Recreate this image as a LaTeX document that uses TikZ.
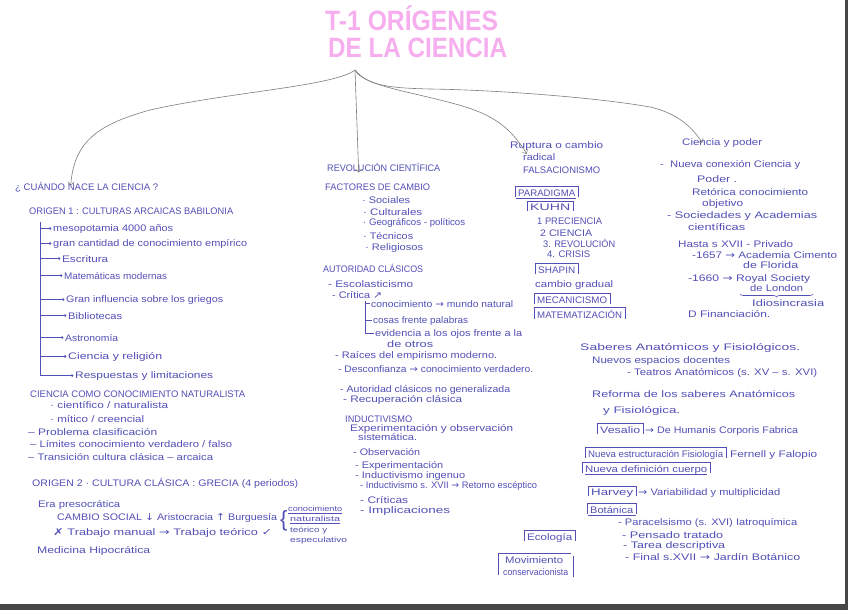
\documentclass[tikz,border=0pt]{standalone}
\usepackage{fontspec}
\setmainfont{Liberation Sans}
\newfontfamily\symf{DejaVu Sans}
\usetikzlibrary{arrows.meta,decorations.pathreplacing}
\definecolor{ink}{RGB}{82,80,182}
\definecolor{pinkt}{RGB}{246,174,238}
\definecolor{lnc}{RGB}{125,125,125}
\definecolor{edge}{RGB}{70,70,72}
\newcommand\sy[1]{{\symf #1}}
\newcommand\tx[5]{\node[txt] (#1) at (#2,#3) {\resizebox{#4pt}{\height}{#5}};}
\newcommand\bx[5]{\tx{#1}{#2}{#3}{#4}{#5}\draw[boxl] ([xshift=-2.5pt,yshift=-1pt]#1.base west) -- ([xshift=-2.5pt,yshift=2.5pt]#1.north west) -- ([xshift=2.5pt,yshift=2.5pt]#1.north east) -- ([xshift=2.5pt,yshift=-1pt]#1.base east);}
\tikzset{
  txt/.style={anchor=base west, inner sep=0pt, text=ink, font=\fontsize{9.5}{10}\selectfont},
  ttl/.style={anchor=base west, inner sep=0pt, text=pinkt, font=\fontsize{28}{28}\selectfont\bfseries},
  conn/.style={draw=lnc, line width=0.6pt, -{Straight Barb[length=3pt,width=6pt]}},
  boxl/.style={draw=ink, line width=0.5pt},
  inkl/.style={draw=ink, line width=0.55pt},
  tk/.style={draw=ink, line width=0.55pt, -{Straight Barb[length=1.5pt,width=3pt]}}
}
\begin{document}
\begin{tikzpicture}[x=1pt,y=-1pt]
\useasboundingbox (0,0) rectangle (848,610);
\fill[white] (0,0) rectangle (848,610);
\fill[edge] (0,604) rectangle (848,610);
\fill[edge] (845,0) rectangle (848,610);

% title
\node[ttl] (tt1) at (325,31) {\resizebox{173pt}{\height}{T-1 ORÍGENES}};
\node[ttl] (tt2) at (328,58) {\resizebox{179pt}{\height}{DE LA CIENCIA}};
\coordinate (J) at (355,70);

% left column
\tx{q1}{15}{190}{143}{¿ CUÁNDO NACE LA CIENCIA ?}
\tx{o1}{29}{214}{204}{ORIGEN 1 : CULTURAS ARCAICAS BABILONIA}
\coordinate (b1) at (40,222);
\tx{a1}{53}{231}{120}{mesopotamia 4000 años}
\tx{a2}{53}{246}{194}{gran cantidad de conocimiento empírico}
\tx{a3}{62}{262}{46}{Escritura}
\tx{a4}{64}{279}{103}{Matemáticas modernas}
\tx{a5}{66}{302}{157}{Gran influencia sobre los griegos}
\tx{a6}{68}{319}{54}{Bibliotecas}
\tx{a7}{65}{341}{53}{Astronomía}
\tx{a8}{68}{359}{94}{Ciencia y religión}
\tx{a9}{75}{378}{138}{Respuestas y limitaciones}
\draw[inkl] (b1) -- (b1 |- a9.west);
\foreach \n in {a1,a2,a3,a4,a5,a6,a7,a8,a9}
  \draw[tk] (\n.west -| b1) -- ([xshift=-1.5pt]\n.west);

\tx{c1}{30}{397}{215}{CIENCIA COMO CONOCIMIENTO NATURALISTA}
\tx{c2}{50}{408}{118}{· científico / naturalista}
\tx{c3}{50}{422}{94}{· mítico / creencial}
\tx{c4}{28}{435}{129}{– Problema clasificación}
\tx{c5}{30}{447}{202}{– Límites conocimiento verdadero / falso}
\tx{c6}{28}{460}{185}{– Transición cultura clásica – arcaica}
\tx{o2}{32}{486}{266}{ORIGEN 2 · CULTURA CLÁSICA : GRECIA (4 periodos)}
\tx{e1}{38}{507}{82}{Era presocrática}
\tx{e2}{57}{520}{220}{CAMBIO SOCIAL \sy{↓} Aristocracia \sy{↑} Burguesía}
\tx{e3}{53}{535}{219}{\sy{✗} Trabajo manual \sy{→} Trabajo teórico \sy{✓}}
\node[txt] (br1) at (280,526) {\fontsize{22}{22}\selectfont\{};
\tx{e4}{288}{511}{54}{\fontsize{7.5}{8}\selectfont conocimiento}
\tx{e5}{290}{521}{50}{\fontsize{7.5}{8}\selectfont naturalista}
\draw[inkl] ([yshift=-2pt]e4.base west) -- ([yshift=-2pt]e4.base east);
\draw[inkl] ([yshift=-2pt]e5.base west) -- ([yshift=-2pt]e5.base east);
\tx{e6}{290}{532}{37}{\fontsize{7.5}{8}\selectfont teórico y}
\tx{e7}{290}{542}{57}{\fontsize{7.5}{8}\selectfont especulativo}
\tx{e8}{37}{553}{113}{Medicina Hipocrática}

% middle column
\tx{r1}{327}{171}{113}{REVOLUCIÓN CIENTÍFICA}
\tx{r2}{325}{190}{105}{FACTORES DE CAMBIO}
\tx{r3}{362}{203}{48}{· Sociales}
\tx{r4}{363}{215}{59}{· Culturales}
\tx{r5}{363}{225}{102}{· Geográficos - políticos}
\tx{r6}{363}{239}{50}{· Técnicos}
\tx{r7}{365}{250}{58}{· Religiosos}
\tx{r8}{323}{272}{100}{AUTORIDAD CLÁSICOS}
\tx{r9}{328}{287}{85}{- Escolasticismo}
\tx{r10}{332}{298}{50}{- Crítica \sy{↗}}
\coordinate (b2) at (365,301);
\tx{r11}{371}{307}{142}{conocimiento \sy{→} mundo natural}
\tx{r12}{373}{323}{95}{cosas frente palabras}
\tx{r13}{375}{336}{147}{evidencia a los ojos frente a la}
\tx{r14}{387}{347}{46}{de otros}
\draw[inkl] (b2) -- (b2 |- r13.west);
\foreach \n in {r11,r12,r13}
  \draw[inkl] (\n.west -| b2) -- ([xshift=-1pt]\n.west);
\tx{r15}{335}{358}{162}{- Raíces del empirismo moderno.}
\tx{r16}{338}{372}{195}{- Desconfianza \sy{→} conocimiento verdadero.}
\tx{r17}{340}{392}{170}{- Autoridad clásicos no generalizada}
\tx{r18}{343}{402}{119}{- Recuperación clásica}
\tx{r19}{345}{422}{67}{INDUCTIVISMO}
\tx{r20}{350}{431}{163}{Experimentación y observación}
\tx{r21}{358}{440}{59}{sistemática.}
\tx{r22}{353}{455}{67}{- Observación}
\tx{r23}{355}{468}{88}{- Experimentación}
\tx{r24}{355}{478}{110}{- Inductivismo ingenuo}
\tx{r25}{360}{488}{177}{- Inductivismo s. XVII \sy{→} Retorno escéptico}
\tx{r26}{360}{503}{48}{- Críticas}
\tx{r27}{360}{513}{90}{- Implicaciones}

% third column
\tx{k1}{510}{148}{93}{Ruptura o cambio}
\tx{k2}{523}{160}{32}{radical}
\tx{k3}{523}{173}{77}{FALSACIONISMO}
\bx{k4}{518}{196}{57}{PARADIGMA}
\draw[inkl] ([xshift=-2.5pt,yshift=-2.5pt]k4.base west) -- ([xshift=1pt,yshift=-2.5pt]k4.base east);
\bx{k5}{530}{210}{40}{KUHN}
\tx{k6}{537}{224}{65}{1 PRECIENCIA}
\tx{k7}{540}{236}{52}{2 CIENCIA}
\tx{k8}{543}{247}{72}{3. REVOLUCIÓN}
\tx{k9}{547}{257}{43}{4. CRISIS}
\bx{k10}{538}{273}{37}{SHAPIN}
\tx{k11}{535}{287}{78}{cambio gradual}
\bx{k12}{537}{303}{70}{MECANICISMO}
\bx{k13}{537}{318}{85}{MATEMATIZACIÓN}
\bx{k14}{527}{540}{45}{Ecología}
\tx{k15}{505}{563}{58}{Movimiento}
\tx{k16}{503}{575}{65}{conservacionista}
\draw[boxl] ([xshift=-5pt]k16.base west) -- ([xshift=-5pt,yshift=3pt]k16.west |- k15.north)
  -- ([xshift=3pt,yshift=3pt]k16.east |- k15.north);
\draw[boxl] ([xshift=5pt,yshift=-2pt]k16.base east) -- ([xshift=5pt]k16.east |- k15.north);

% fourth column
\tx{p1}{682}{145}{80}{Ciencia y poder}
\tx{p2}{660}{167}{140}{-\ \ Nueva conexión Ciencia y}
\tx{p3}{697}{182}{40}{Poder .}
\tx{p4}{692}{195}{116}{Retórica conocimiento}
\tx{p5}{702}{206}{41}{objetivo}
\tx{p6}{667}{218}{150}{- Sociedades y Academias}
\tx{p7}{688}{230}{57}{científicas}
\tx{p8}{678}{247}{115}{Hasta s XVII - Privado}
\tx{p9}{692}{258}{145}{-1657 \sy{→} Academia Cimento}
\tx{p10}{743}{268}{55}{de Florida}
\tx{p11}{688}{281}{122}{-1660 \sy{→} Royal Society}
\tx{p12}{750}{291}{53}{de London}
\draw[inkl, decorate, decoration={brace, amplitude=3pt, mirror}] (740,294) -- (813,294);
\tx{p13}{752}{306}{72}{Idiosincrasia}
\tx{p14}{688}{317}{82}{D Financiación.}

\tx{s1}{580}{350}{220}{Saberes Anatómicos y Fisiológicos.}
\tx{s2}{592}{363}{138}{Nuevos espacios docentes}
\tx{s3}{627}{375}{190}{- Teatros Anatómicos (s. XV – s. XVI)}
\tx{s4}{592}{397}{203}{Reforma de los saberes Anatómicos}
\tx{s5}{603}{413}{77}{y Fisiológica.}
\bx{s6}{600}{433}{40}{Vesalio}
\tx{s7}{645}{433}{153}{\sy{→} De Humanis Corporis Fabrica}
\bx{s8}{588}{457}{135}{Nueva estructuración Fisiología}
\tx{s9}{730}{457}{87}{Fernell y Falopio}
\bx{s10}{585}{472}{122}{Nueva definición cuerpo}
\draw[inkl] ([yshift=-2.5pt]s10.base west) -- ([yshift=-2.5pt]s10.base east);
\bx{s11}{591}{495}{42}{Harvey}
\tx{s12}{638}{495}{142}{\sy{→} Variabilidad y multiplicidad}
\bx{s13}{590}{513}{43}{Botánica}
\draw[inkl] ([xshift=-2.5pt,yshift=-2.5pt]s13.base west) -- ([xshift=2.5pt,yshift=-2.5pt]s13.base east);
\tx{s14}{618}{525}{179}{- Paracelsismo (s. XVI) Iatroquímica}
\tx{s15}{622}{538}{101}{- Pensado tratado}
\tx{s16}{623}{548}{102}{- Tarea descriptiva}
\tx{s17}{625}{560}{175}{- Final s.XVII \sy{→} Jardín Botánico}

% connectors from the title
\draw[conn] (J) .. controls (335,86) and (230,92) .. (150,110)
  .. controls (100,124) and (74,140) .. ([xshift=-16pt,yshift=-4pt]q1.north);
\draw[conn] (J) -- ([xshift=-25pt,yshift=-10pt]r1.north);
\draw[conn] (J) .. controls (362,84) and (400,90) .. (440,100)
  .. controls (480,110) and (505,118) .. ([xshift=-30pt,yshift=-13pt]k1.north);
\draw[conn] (J) .. controls (368,86) and (390,88) .. (430,89)
  .. controls (500,90) and (600,98) .. (650,107)
  .. controls (672,112) and (690,123) .. ([xshift=-20pt,yshift=-5pt]p1.north);
\end{tikzpicture}
\end{document}
